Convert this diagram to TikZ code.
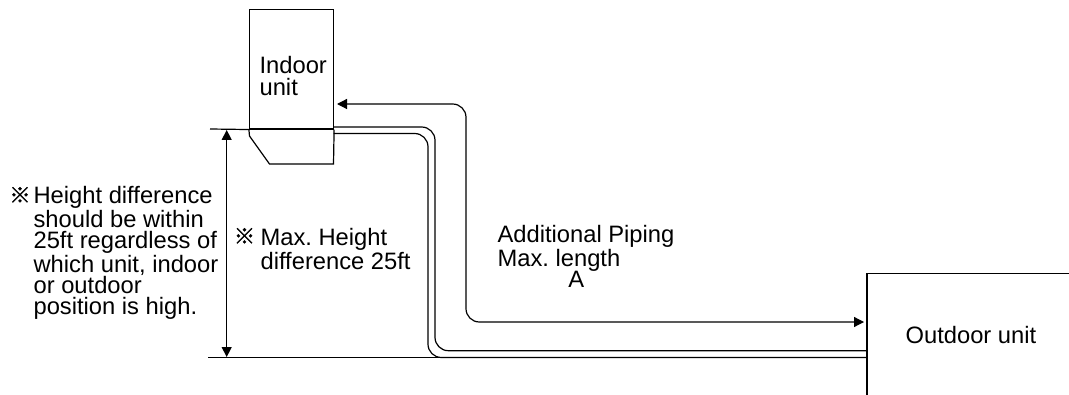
\documentclass[tikz,border=0pt]{standalone}
\usepackage{fontspec}
\setmainfont{Liberation Sans}
\newfontfamily\markfont[FakeBold=1.5]{Noto Sans CJK JP}
\usetikzlibrary{arrows.meta}
\frenchspacing

\begin{document}
\begin{tikzpicture}[
            x = 0.75pt, y = -0.75pt, % reference pixels, y downwards
            > = {Triangle[length=7.5pt,width=7.5pt]}, % arrow head style
            line width = 0.9pt,
            pipe/.style = {rounded corners = 10pt},
            caption/.style = {align = left, inner sep = 0pt, anchor = north west,
                font = \fontsize{17.8}{16}\selectfont},
            refmark/.style = {inner sep = 0pt, font = \markfont\fontsize{16}{16}\selectfont}
        ]

        \useasboundingbox (0,0) rectangle (1069,395);

        % indoor unit
        \node[draw, inner sep = 0pt, minimum width = 63pt, minimum height = 89.6pt] (indoor) at (291.5,69.2) {};
        \coordinate (chamferA) at (249.5,136);
        \coordinate (chamferB) at (269.5,164);
        \coordinate (chamferC) at (333.5,164);
        \draw (indoor.south west) -- (chamferA) -- (chamferB) -- (chamferC) -- (indoor.south east);
        \node[caption] (indoorlabel) at (259,56) {Indoor\\unit};

        % outdoor unit
        \coordinate (outdoorA) at (1069,273.5);
        \coordinate (outdoorB) at (867,273.5);
        \coordinate (outdoorC) at (867,395);
        \draw (outdoorA) -- (outdoorB) -- (outdoorC);
        \node[caption] (outdoorlabel) at (905,326) {Outdoor unit};

        % level lines
        \coordinate (topleft) at (210,129);
        \coordinate (bottomleft) at (208,357.5);
        \coordinate (bottomright) at (440,357.5);
        \draw (topleft) -- (indoor.south west);
        \draw (bottomleft) -- (bottomright);

        % height arrow
        \coordinate (heighttop) at (226.7,130);
        \coordinate (heightbottom) at (226.7,357);
        \draw[<->] (heighttop) -- (heightbottom);

        % piping
        \coordinate (pipeAin) at (333.5,127);
        \coordinate (pipeAout) at (867,350.7);
        \coordinate (pipeBin) at (333.5,133.5);
        \coordinate (pipeBout) at (867,357.5);
        \draw[pipe] (pipeAin) -- (435,127) -- (435,350.7) -- (pipeAout);
        \draw[pipe] (pipeBin) -- (428,133.5) -- (428,357.5) -- (pipeBout);

        % additional length
        \coordinate (lengthin) at (337,104);
        \coordinate (lengthout) at (864,322);
        \draw[<->, pipe] (lengthin) -- (466,104) -- (466,322) -- (lengthout);

        % notes
        \node[refmark] (markleft) at (20,195) {※};
        \node[caption] (noteleft) at (33,186) {Height difference\\should be within\\25ft regardless of\\which unit, indoor\\or outdoor\\position is high.};
        \node[refmark] (markright) at (244.5,236) {※};
        \node[caption] (noteright) at (260,228) {Max. Height\\difference 25ft};
        \node[caption] (notelength) at (497,225) {Additional Piping\\Max. length\\\hspace*{53pt}A};

\end{tikzpicture}
\end{document}
